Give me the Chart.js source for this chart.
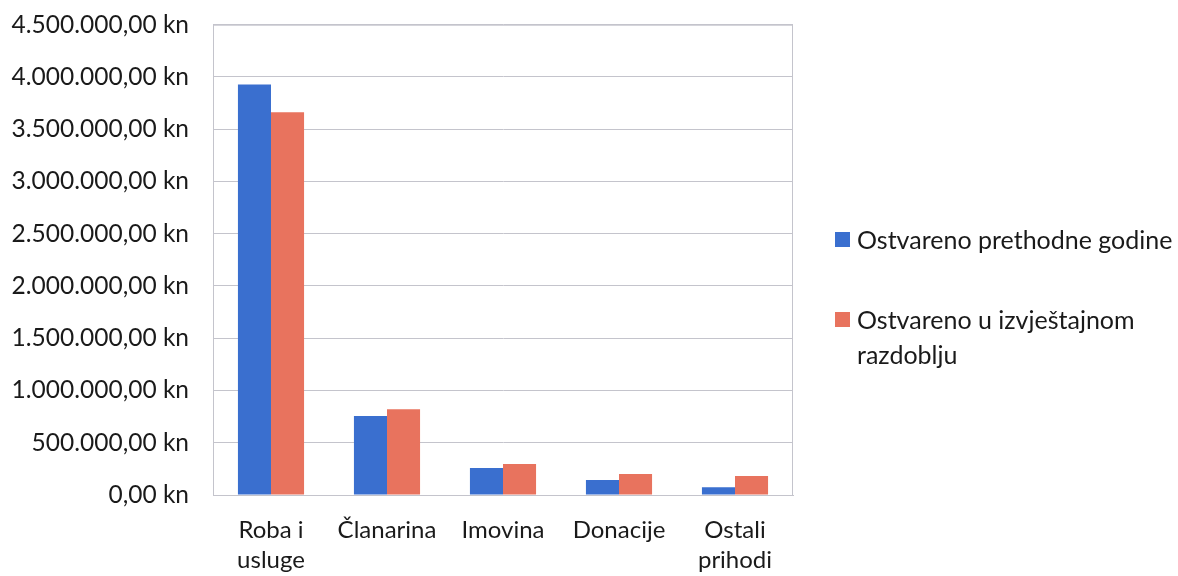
<!DOCTYPE html>
<html>
<head>
<meta charset="utf-8">
<script src="https://cdn.jsdelivr.net/npm/chart.js@4"></script>
<style>
    html, body { margin: 0; padding: 0; background: #fff; overflow: hidden; }
    #wrap { position: relative; width: 1178px; height: 576px; }
    #legenda { position: absolute; left: 835px; top: 222px; font-family: Lato, sans-serif; font-size: 25px; color: #1a1a1a; }
    .stavka { display: flex; align-items: flex-start; margin-bottom: 45px; line-height: 35px; }
    .kvadrat { width: 15px; height: 15px; margin-top: 10px; margin-right: 7px; flex: none; }
</style>
</head>
<body>
<div id="wrap">
    <canvas id="grafPrihodi" width="1178" height="576"></canvas>
    <div id="legenda"></div>
</div>
<script>
// Prihodi po vrstama - usporedba dvije godine

var kategorije = [['Roba i', 'usluge'], 'Članarina', 'Imovina', 'Donacije', ['Ostali', 'prihodi']];
var prethodnaGodina = [3928000, 757000, 258000, 143000, 73000];
var izvjestajnoRazdoblje = [3662000, 820000, 296000, 200000, 181000];
var nazivSerija = ['Ostvareno prethodne godine', ['Ostvareno u izvještajnom', 'razdoblju']];
var boje = ['#3a6fcf', '#e8735e'];

// Format: 1.500.000,00 kn
function formatKn(v) {
    var cijeli = Math.round(v).toString().replace(/\B(?=(\d{3})+(?!\d))/g, '.');
    return cijeli + ',00 kn';
}

var graf = new Chart(document.getElementById('grafPrihodi'), {
    type: 'bar',
    data: {
        labels: kategorije,
        datasets: [{
            label: nazivSerija[0],
            data: prethodnaGodina,
            backgroundColor: boje[0]
        }, {
            label: nazivSerija[1],
            data: izvjestajnoRazdoblje,
            backgroundColor: boje[1]
        }]
    },
    options: {
        responsive: false,
        animation: false,
        layout: {
            padding: { top: 10, right: 385, bottom: -19, left: 0 }
        },
        plugins: {
            legend: { display: false },
            tooltip: { enabled: false }
        },
        datasets: {
            bar: { categoryPercentage: 0.57, barPercentage: 1 }
        },
        scales: {
            x: {
                grid: { display: false, drawTicks: false },
                border: { color: '#c4c4cc', width: 1 },
                ticks: {
                    color: '#1a1a1a',
                    padding: 20,
                    font: { family: 'Lato', size: 24, lineHeight: 1.25 },
                    maxRotation: 0
                }
            },
            y: {
                min: 0,
                max: 4500000,
                // razmak do oznaka preko nevidljivih crtica
                grid: { color: '#c4c4cc', drawTicks: true, tickLength: 14, tickColor: 'rgba(0,0,0,0)' },
                border: { color: '#c4c4cc' },
                ticks: {
                    stepSize: 500000,
                    color: '#1a1a1a',
                    padding: 10,
                    font: { family: 'Lato', size: 24.5 },
                    callback: function(v) { return formatKn(v); }
                },
                afterFit: function(s) { s.width = 213; }
            }
        }
    },
    plugins: [{
        // okvir oko podrucja grafa
        id: 'okvir',
        afterDraw: function(chart) {
            var a = chart.chartArea;
            var ctx = chart.ctx;
            ctx.save();
            ctx.strokeStyle = '#c4c4cc';
            ctx.lineWidth = 1;
            ctx.strokeRect(a.left + 0.5, a.top + 0.5, a.right - a.left - 1, a.bottom - a.top);
            ctx.restore();
        }
    }]
});

// HTML legenda iz podataka grafa
var legenda = document.getElementById('legenda');
graf.data.datasets.forEach(function(ds, i) {
    var tekst = Array.isArray(ds.label) ? ds.label.join('<br>') : ds.label;
    var el = document.createElement('div');
    el.className = 'stavka';
    el.innerHTML = '<span class="kvadrat" style="background:' + ds.backgroundColor + '"></span><span>' + tekst + '</span>';
    legenda.appendChild(el);
});
</script>
</body>
</html>
